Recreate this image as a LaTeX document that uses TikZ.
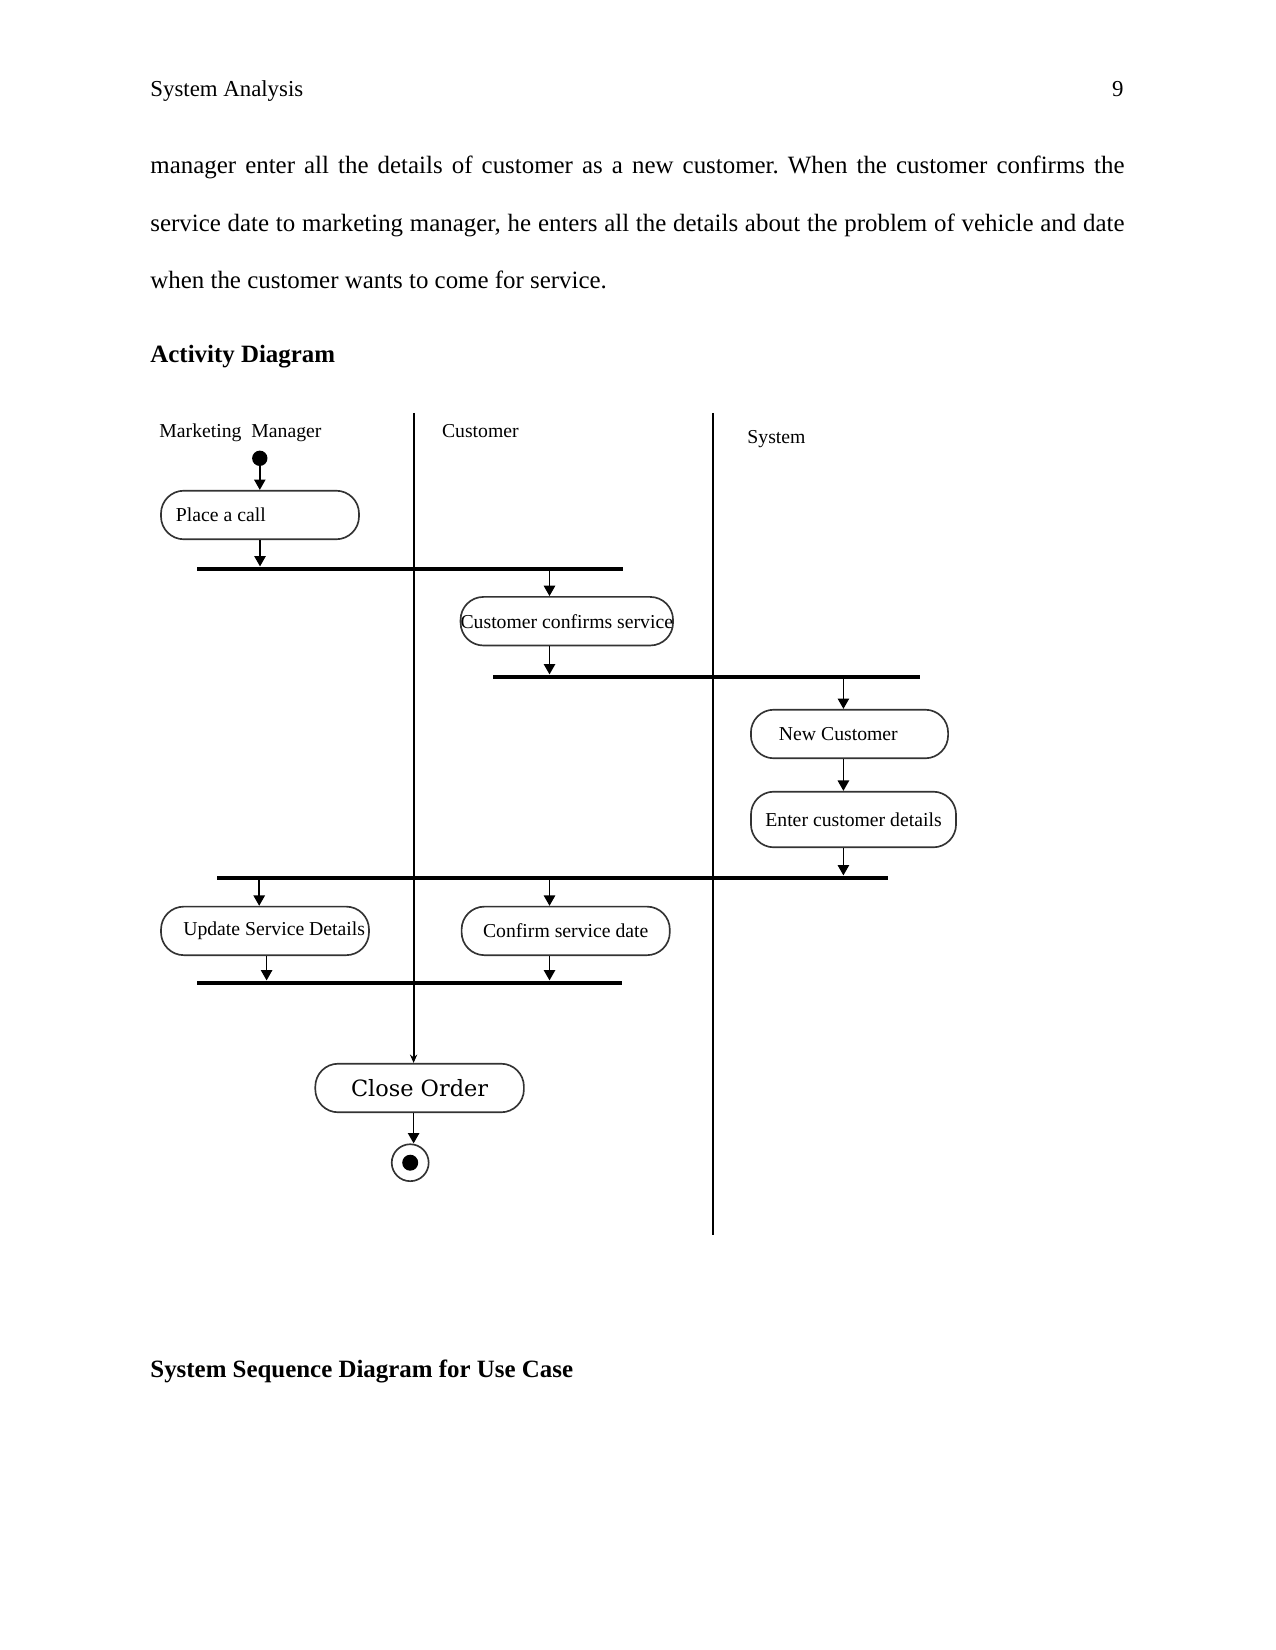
\documentclass[tikz,border=0pt]{standalone}
\usepackage{fontspec}
\setmainfont{Liberation Serif}
\newfontfamily\slabfont{DejaVu Serif}
\usetikzlibrary{arrows.meta}
\frenchspacing
\tikzset{
  act/.style={draw=black!80, line width=0.8pt, fill=white, rounded corners=11pt, minimum height=23.4pt, font=\fontsize{9.5}{11}\selectfont},
  bar/.style={fill=black, inner sep=0pt, minimum height=1.8pt},
  flow/.style={line width=0.7pt, -{Triangle[length=5pt,width=5.5pt]}},
  lane/.style={line width=0.9pt},
  lanetext/.style={anchor=base west, inner sep=0pt, font=\fontsize{9.5}{11}\selectfont},
  body/.style={anchor=base west, inner sep=0pt, font=\fontsize{12}{14}\selectfont},
}
\begin{document}
\begin{tikzpicture}[x=0.4818pt, y=-0.4818pt]
    \useasboundingbox (0,0) rectangle (1275,1650);
    \node[body, font=\fontsize{11}{13}\selectfont] (head) at (150,97) {System Analysis};
    \node[body, anchor=base east, font=\fontsize{11}{13}\selectfont] (page) at (1124,97) {9};
    \node[body] (par1) at (150,174) {\makebox[469.3pt][s]{manager enter all the details of customer as a new customer. When the customer confirms the}};
    \node[body] (par2) at (150,231.5) {\makebox[469.3pt][s]{service date to marketing manager, he enters all the details about the problem of vehicle and date}};
    \node[body] (par3) at (150,289) {when the customer wants to come for service.};
    \node[body, font=\fontsize{12}{14}\selectfont\bfseries] (title) at (150,363) {Activity Diagram};
    \node[body, font=\fontsize{12}{14}\selectfont\bfseries] (next) at (150,1377) {System Sequence Diagram for Use Case};

    \node[lanetext] (mm) at (159,438) {Marketing\ \ Manager};
    \node[lanetext] (cu) at (441.6,438) {Customer};
    \node[lanetext] (sy) at (747,444) {System};

    \node[circle, fill=black, minimum size=7.4pt, inner sep=0pt] (start) at (259.8,458.3) {};
    \node[act, inner xsep=7.2pt] (place) at (260,515) {\makebox[81pt][l]{Place a call}};
    \node[bar, minimum width=205.4pt] (bar1) at (409.8,568.7) {};
    \node[act, inner xsep=0pt] (confirms) at (566.8,621.2) {Customer confirms service};
    \node[bar, minimum width=205.6pt] (bar2) at (706.2,676.7) {};
    \node[act, inner xsep=13.5pt] (newcust) at (849.5,734) {\makebox[68pt][l]{New Customer}};
    \node[act, minimum width=98.8pt, minimum height=26.8pt] (details) at (853.5,819.5) {Enter customer details};
    \node[bar, minimum width=323.3pt] (bar3) at (552.5,877.7) {};
    \node[act, inner xsep=1.9pt] (update) at (265,930.9) {\makebox[96.4pt][r]{Update Service Details}};
    \node[act, minimum width=100.3pt] (date) at (565.7,930.9) {Confirm service date};
    \node[bar, minimum width=205.2pt] (bar4) at (409.5,982.7) {};
    \node[act, minimum width=100.5pt, font=\fontsize{10.8}{12}\slabfont] (close) at (419.6,1088) {Close Order};
    \node[circle, draw=black!80, line width=0.8pt, minimum size=17.8pt, inner sep=0pt] (end) at (410.2,1162.7) {};
    \node[circle, fill=black, minimum size=7.7pt, inner sep=0pt] (endin) at (end) {};

    \draw[lane, -{Stealth[length=4pt,width=3.5pt]}] (413.6,413) -- (413.6,0 |- close.north);
    \draw[lane] (713,413) -- (713,1235);

    \draw[flow] (start) -- (start |- place.north);
    \draw[flow] (place.south) -- (place.south |- bar1.north);
    \draw[flow] (549.5,0 |- bar1.south) -- (549.5,0 |- confirms.north);
    \draw[flow] (549.5,0 |- confirms.south) -- (549.5,0 |- bar2.north);
    \draw[flow] (843.4,0 |- bar2.south) -- (843.4,0 |- newcust.north);
    \draw[flow] (843.4,0 |- newcust.south) -- (843.4,0 |- details.north);
    \draw[flow] (843.4,0 |- details.south) -- (843.4,0 |- bar3.north);
    \draw[flow] (259.2,0 |- bar3.south) -- (259.2,0 |- update.north);
    \draw[flow] (549.5,0 |- bar3.south) -- (549.5,0 |- date.north);
    \draw[flow] (266.6,0 |- update.south) -- (266.6,0 |- bar4.north);
    \draw[flow] (549.5,0 |- date.south) -- (549.5,0 |- bar4.north);
    \draw[flow] (413.6,0 |- close.south) -- (413.6,0 |- end.north);
\end{tikzpicture}
\end{document}
